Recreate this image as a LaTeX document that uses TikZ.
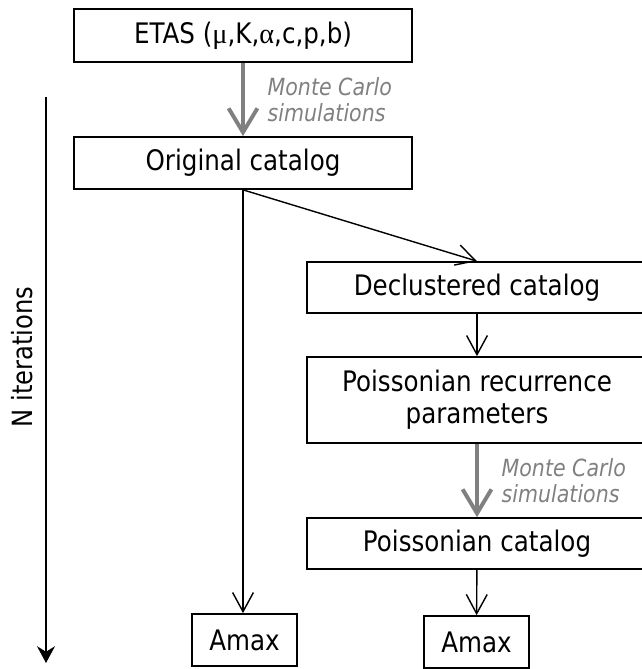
\documentclass[tikz,border=0pt]{standalone}
\usepackage{fontspec}
\setmainfont[FakeStretch=0.87]{DejaVu Sans}
\newfontfamily\grkfont{Liberation Serif}
\usetikzlibrary{arrows.meta}
\definecolor{mcgray}{RGB}{128,128,128}

\tikzset{
  stepbox/.style={draw, line width=1.2pt, inner sep=0pt, align=center,
    font=\fontsize{20.1}{22.7}\selectfont},
  flow/.style={line width=1pt, -{Straight Barb[length=0.48cm, width=0.52cm]}},
  mcflow/.style={line width=2.8pt, draw=mcgray, -{Straight Barb[length=0.6cm, width=0.72cm]}},
  mclabel/.style={font=\fontsize{16.8}{18.4}\selectfont\itshape, text=mcgray, align=left}
}

\begin{document}
\begin{tikzpicture}[x=0.025cm, y=-0.025cm]
	\useasboundingbox (0,0) rectangle (642,669);

	% linke Spalte: ETAS-Modell und Originalkatalog
	\node[stepbox, minimum width=8.45cm, minimum height=1.325cm] (etas) at (243,35.5)
		{ETAS ({\grkfont μ},K,{\grkfont α},c,p,b)};
	\node[stepbox, minimum width=8.45cm, minimum height=1.3cm] (orig) at (243,163)
		{Original catalog};
	\node[stepbox, minimum width=2.625cm, minimum height=1.3cm] (amaxL) at (244.5,640)
		{Amax};

	% rechte Spalte: Declustering und Poisson-Katalog
	\node[stepbox, minimum width=8.5cm, minimum height=1.275cm] (decl) at (477,287.5)
		{Declustered catalog};
	\node[stepbox, minimum width=8.5cm, minimum height=2.15cm] (recur) at (477,400)
		{Poissonian recurrence\\parameters};
	\node[stepbox, minimum width=8.5cm, minimum height=1.275cm] (poiss) at (477,543.5)
		{Poissonian catalog};
	\node[stepbox, minimum width=2.625cm, minimum height=1.3cm] (amaxR) at (476.5,642)
		{Amax};

	% Pfeile
	\draw[mcflow] (etas) -- (orig)
		node[mclabel, midway, right=0.45cm] {Monte Carlo\\simulations};
	\draw[flow] (orig.south) -- (orig.south |- amaxL.north);
	\draw[flow] (orig.south) -- (decl.north);
	\draw[flow] (decl) -- (recur);
	\draw[mcflow] (recur) -- (poiss)
		node[mclabel, midway, right=0.45cm] {Monte Carlo\\simulations};
	\draw[flow] (poiss) -- (amaxR);

	% Iterationen
	\coordinate (itTop) at (46,97);
	\coordinate (itEnd) at (46,663);
	\draw[line width=1pt, -{Stealth[length=0.42cm, width=0.45cm, inset=0.14cm]}] (itTop) -- (itEnd);
	\node[rotate=90, font=\fontsize{19.8}{22}\selectfont] (iter) at (22,357) {N iterations};
\end{tikzpicture}
\end{document}
